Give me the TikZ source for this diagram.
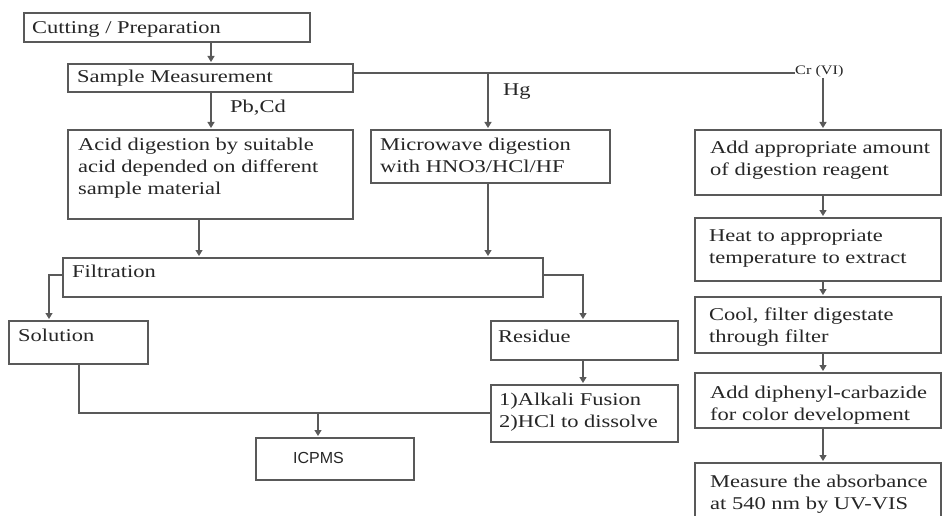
\documentclass[tikz,border=0pt]{standalone}
\usepackage{fontspec}
\setmainfont[FakeStretch=1.25]{Liberation Serif}
\newfontfamily\icpfont{Liberation Sans}
\usetikzlibrary{arrows.meta,fit}
\begin{document}
\begin{tikzpicture}[x=1pt,y=-1pt,
  line/.style={draw=black!65, line width=1.2pt},
  arr/.style={line, -{Triangle[width=7pt,length=6pt]}, shorten >=2pt},
  box/.style={line, inner sep=0pt, outer sep=0pt, rectangle},
  txt/.style={inner sep=0pt, anchor=base west, text=black!85, font=\fontsize{18}{22}\selectfont},
  mtxt/.style={txt, anchor=north west, align=left},
  lbl/.style={txt}]
\path[use as bounding box, fill=white] (0,0) rectangle (943,516);
\clip (0,0) rectangle (943,516);

% boxes
\node[box, fit={(24,13) (310,42)}] (cut) {};
\node[box, fit={(68,64) (353,92)}] (samp) {};
\node[box, fit={(68,130) (353,219)}] (acid) {};
\node[box, fit={(371,130) (610,183)}] (micro) {};
\node[box, fit={(695,130) (941,195)}] (add) {};
\node[box, fit={(695,218) (941,281)}] (heat) {};
\node[box, fit={(695,297) (941,353)}] (cool) {};
\node[box, fit={(695,373) (941,428)}] (diph) {};
\node[box, fit={(695,463) (941,540)}] (meas) {};
\node[box, fit={(63,258) (543,297)}] (filt) {};
\node[box, fit={(9,321) (148,364)}] (sol) {};
\node[box, fit={(491,321) (678,360)}] (res) {};
\node[box, fit={(491,385) (678,442)}] (alk) {};
\node[box, fit={(256,438) (414,480)}] (icp) {};

% texts
\node[txt] (cut-t) at (32,33.5) {Cutting / Preparation};
\node[txt] (samp-t) at (77,83) {Sample Measurement};
\node[mtxt] (acid-t) at (78,137.7) {Acid digestion by suitable\\acid depended on different\\sample material};
\node[mtxt] (micro-t) at (380,137.7) {Microwave digestion\\with HNO3/HCl/HF};
\node[mtxt] (add-t) at (710,140.7) {Add appropriate amount\\of digestion reagent};
\node[mtxt] (heat-t) at (709,229.7) {Heat to appropriate\\temperature to extract};
\node[mtxt] (cool-t) at (709,307.7) {Cool, filter digestate\\through filter};
\node[mtxt] (diph-t) at (710,385.7) {Add diphenyl-carbazide\\for color development};
\node[mtxt] (meas-t) at (710,474.7) {Measure the absorbance\\at 540 nm by UV-VIS};
\node[txt] (filt-t) at (72,277) {Filtration};
\node[txt] (sol-t) at (18,341) {Solution};
\node[txt] (res-t) at (498,342) {Residue};
\node[mtxt] (alk-t) at (499,392.7) {1)Alkali Fusion\\2)HCl to dissolve};
\node[txt, font=\icpfont\fontsize{16}{18}\selectfont] (icp-t) at (293,463) {ICPMS};

% labels
\node[lbl] (pbcd) at (230,113) {Pb,Cd};
\node[lbl] (hg) at (503,96) {Hg};
\node[txt, font=\fontsize{13}{15}\selectfont] (cr) at (795,75) {Cr (VI)};

% guides
\coordinate (xa) at (211,0);
\coordinate (xb) at (199,0);
\coordinate (xh) at (488,0);
\coordinate (xc) at (823,0);
\coordinate (xl) at (49,0);
\coordinate (xr) at (583,0);
\coordinate (xs) at (79,0);
\coordinate (xi) at (318,0);
\coordinate (yt) at (0,73);
\coordinate (yf) at (0,275);
\coordinate (yb) at (0,413);

% connectors
\draw[arr] (cut.south -| xa) -- (samp.north -| xa);
\draw[arr] (samp.south -| xa) -- (acid.north -| xa);
\draw[line] (samp.east |- yt) -- (cr.west |- yt);
\draw[arr] (xh |- yt) -- (micro.north -| xh);
\draw[arr] (cr.south -| xc) -- (add.north -| xc);
\draw[arr] (acid.south -| xb) -- (filt.north -| xb);
\draw[arr] (micro.south -| xh) -- (filt.north -| xh);
\draw[arr] (filt.west |- yf) -| (sol.north -| xl);
\draw[arr] (filt.east |- yf) -| (res.north -| xr);
\draw[arr] (res.south -| xr) -- (alk.north -| xr);
\draw[line] (sol.south -| xs) |- (alk.west |- yb);
\draw[arr] (xi |- yb) -- (icp.north -| xi);
\draw[arr] (add.south -| xc) -- (heat.north -| xc);
\draw[arr] (heat.south -| xc) -- (cool.north -| xc);
\draw[arr] (cool.south -| xc) -- (diph.north -| xc);
\draw[arr] (diph.south -| xc) -- (meas.north -| xc);
\end{tikzpicture}
\end{document}
